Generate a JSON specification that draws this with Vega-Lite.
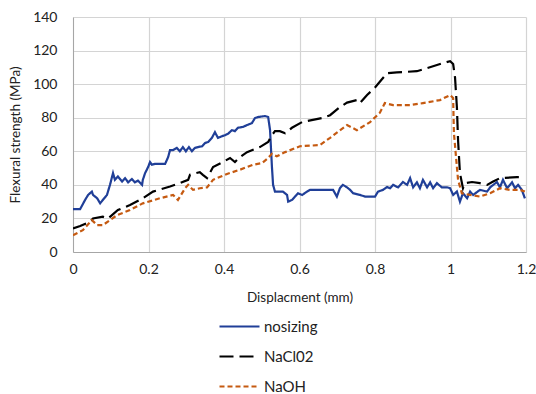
{
  "$schema": "https://vega.github.io/schema/vega-lite/v6.json",
  "width": 453,
  "height": 235,
  "autosize": "none",
  "padding": {"left": 73, "top": 17, "right": 10, "bottom": 142},
  "background": "white",
  "config": {
    "font": "Lato",
    "view": {"stroke": null},
    "axis": {"gridColor": "#d4d4d4", "gridWidth": 1.2, "domainColor": "#a6a6a6", "ticks": false, "labelColor": "#222222", "titleColor": "#222222", "labelFontSize": 14, "titleFontSize": 13.5, "titleFontWeight": "normal", "labelFont": "Lato", "titleFont": "Lato"}
  },
  "data": {"values": [
    {"s":"nosizing","x":0.000,"y":25.6},{"s":"nosizing","x":0.019,"y":25.6},{"s":"nosizing","x":0.032,"y":31},{"s":"nosizing","x":0.040,"y":34},{"s":"nosizing","x":0.050,"y":36},{"s":"nosizing","x":0.053,"y":34},{"s":"nosizing","x":0.064,"y":32},{"s":"nosizing","x":0.072,"y":29},{"s":"nosizing","x":0.079,"y":31},{"s":"nosizing","x":0.090,"y":34},{"s":"nosizing","x":0.098,"y":40},{"s":"nosizing","x":0.106,"y":47},{"s":"nosizing","x":0.111,"y":43},{"s":"nosizing","x":0.119,"y":45},{"s":"nosizing","x":0.130,"y":42},{"s":"nosizing","x":0.138,"y":44},{"s":"nosizing","x":0.146,"y":41.5},{"s":"nosizing","x":0.156,"y":43.5},{"s":"nosizing","x":0.164,"y":41.5},{"s":"nosizing","x":0.172,"y":42.5},{"s":"nosizing","x":0.183,"y":40},{"s":"nosizing","x":0.185,"y":43},{"s":"nosizing","x":0.191,"y":47},{"s":"nosizing","x":0.199,"y":50.6},{"s":"nosizing","x":0.204,"y":53.6},{"s":"nosizing","x":0.209,"y":52},{"s":"nosizing","x":0.217,"y":52.5},{"s":"nosizing","x":0.244,"y":52.5},{"s":"nosizing","x":0.252,"y":56.5},{"s":"nosizing","x":0.257,"y":60.7},{"s":"nosizing","x":0.265,"y":60.7},{"s":"nosizing","x":0.275,"y":62},{"s":"nosizing","x":0.283,"y":60},{"s":"nosizing","x":0.291,"y":62.5},{"s":"nosizing","x":0.299,"y":60},{"s":"nosizing","x":0.307,"y":62.5},{"s":"nosizing","x":0.315,"y":60},{"s":"nosizing","x":0.323,"y":62},{"s":"nosizing","x":0.331,"y":62.5},{"s":"nosizing","x":0.342,"y":63},{"s":"nosizing","x":0.350,"y":65},{"s":"nosizing","x":0.358,"y":65.5},{"s":"nosizing","x":0.368,"y":68},{"s":"nosizing","x":0.376,"y":71.4},{"s":"nosizing","x":0.384,"y":68},{"s":"nosizing","x":0.395,"y":69},{"s":"nosizing","x":0.403,"y":69.6},{"s":"nosizing","x":0.411,"y":70.5},{"s":"nosizing","x":0.421,"y":72.6},{"s":"nosizing","x":0.429,"y":72},{"s":"nosizing","x":0.437,"y":74},{"s":"nosizing","x":0.450,"y":74.5},{"s":"nosizing","x":0.461,"y":75.6},{"s":"nosizing","x":0.474,"y":76.8},{"s":"nosizing","x":0.482,"y":79.8},{"s":"nosizing","x":0.490,"y":80.4},{"s":"nosizing","x":0.509,"y":81},{"s":"nosizing","x":0.517,"y":80.4},{"s":"nosizing","x":0.522,"y":72.6},{"s":"nosizing","x":0.527,"y":50.6},{"s":"nosizing","x":0.530,"y":40},{"s":"nosizing","x":0.535,"y":36},{"s":"nosizing","x":0.556,"y":36},{"s":"nosizing","x":0.567,"y":34},{"s":"nosizing","x":0.570,"y":30},{"s":"nosizing","x":0.580,"y":31},{"s":"nosizing","x":0.588,"y":33},{"s":"nosizing","x":0.596,"y":35},{"s":"nosizing","x":0.607,"y":34},{"s":"nosizing","x":0.620,"y":36},{"s":"nosizing","x":0.628,"y":37},{"s":"nosizing","x":0.689,"y":37},{"s":"nosizing","x":0.699,"y":33},{"s":"nosizing","x":0.707,"y":38},{"s":"nosizing","x":0.715,"y":40},{"s":"nosizing","x":0.726,"y":38.5},{"s":"nosizing","x":0.734,"y":37},{"s":"nosizing","x":0.742,"y":35},{"s":"nosizing","x":0.760,"y":34},{"s":"nosizing","x":0.774,"y":33},{"s":"nosizing","x":0.800,"y":33},{"s":"nosizing","x":0.808,"y":36},{"s":"nosizing","x":0.821,"y":37},{"s":"nosizing","x":0.832,"y":38.7},{"s":"nosizing","x":0.840,"y":38},{"s":"nosizing","x":0.848,"y":40},{"s":"nosizing","x":0.861,"y":38.5},{"s":"nosizing","x":0.874,"y":41.7},{"s":"nosizing","x":0.885,"y":40},{"s":"nosizing","x":0.893,"y":44},{"s":"nosizing","x":0.901,"y":38.5},{"s":"nosizing","x":0.911,"y":41.5},{"s":"nosizing","x":0.919,"y":38},{"s":"nosizing","x":0.927,"y":43},{"s":"nosizing","x":0.938,"y":38.5},{"s":"nosizing","x":0.946,"y":41.5},{"s":"nosizing","x":0.954,"y":38},{"s":"nosizing","x":0.964,"y":41},{"s":"nosizing","x":0.977,"y":38.5},{"s":"nosizing","x":0.991,"y":38.5},{"s":"nosizing","x":0.999,"y":38},{"s":"nosizing","x":1.007,"y":34},{"s":"nosizing","x":1.017,"y":36},{"s":"nosizing","x":1.025,"y":30},{"s":"nosizing","x":1.033,"y":35},{"s":"nosizing","x":1.044,"y":32},{"s":"nosizing","x":1.052,"y":36},{"s":"nosizing","x":1.060,"y":34},{"s":"nosizing","x":1.078,"y":37},{"s":"nosizing","x":1.097,"y":36},{"s":"nosizing","x":1.105,"y":38.5},{"s":"nosizing","x":1.123,"y":41.7},{"s":"nosizing","x":1.131,"y":38.5},{"s":"nosizing","x":1.139,"y":43},{"s":"nosizing","x":1.150,"y":38},{"s":"nosizing","x":1.163,"y":41.5},{"s":"nosizing","x":1.171,"y":38},{"s":"nosizing","x":1.179,"y":40},{"s":"nosizing","x":1.189,"y":37},{"s":"nosizing","x":1.197,"y":32},
    {"s":"NaCl02","x":0.000,"y":14},{"s":"NaCl02","x":0.019,"y":15.5},{"s":"NaCl02","x":0.045,"y":18},{"s":"NaCl02","x":0.053,"y":20},{"s":"NaCl02","x":0.079,"y":21},{"s":"NaCl02","x":0.093,"y":20},{"s":"NaCl02","x":0.119,"y":25},{"s":"NaCl02","x":0.151,"y":28},{"s":"NaCl02","x":0.185,"y":32},{"s":"NaCl02","x":0.212,"y":36},{"s":"NaCl02","x":0.257,"y":39},{"s":"NaCl02","x":0.283,"y":41},{"s":"NaCl02","x":0.305,"y":43},{"s":"NaCl02","x":0.310,"y":46},{"s":"NaCl02","x":0.336,"y":47.6},{"s":"NaCl02","x":0.344,"y":46},{"s":"NaCl02","x":0.355,"y":44},{"s":"NaCl02","x":0.371,"y":50.6},{"s":"NaCl02","x":0.397,"y":53.6},{"s":"NaCl02","x":0.416,"y":56},{"s":"NaCl02","x":0.429,"y":53.6},{"s":"NaCl02","x":0.442,"y":56.5},{"s":"NaCl02","x":0.461,"y":59.5},{"s":"NaCl02","x":0.495,"y":62.5},{"s":"NaCl02","x":0.517,"y":65.5},{"s":"NaCl02","x":0.527,"y":69.6},{"s":"NaCl02","x":0.535,"y":72},{"s":"NaCl02","x":0.548,"y":72},{"s":"NaCl02","x":0.562,"y":70.8},{"s":"NaCl02","x":0.580,"y":74},{"s":"NaCl02","x":0.607,"y":77.4},{"s":"NaCl02","x":0.660,"y":79.8},{"s":"NaCl02","x":0.681,"y":81.5},{"s":"NaCl02","x":0.707,"y":86.3},{"s":"NaCl02","x":0.726,"y":89},{"s":"NaCl02","x":0.752,"y":90.5},{"s":"NaCl02","x":0.760,"y":88.7},{"s":"NaCl02","x":0.779,"y":93.5},{"s":"NaCl02","x":0.800,"y":98},{"s":"NaCl02","x":0.832,"y":106.5},{"s":"NaCl02","x":0.858,"y":107},{"s":"NaCl02","x":0.911,"y":107.7},{"s":"NaCl02","x":0.938,"y":109.5},{"s":"NaCl02","x":0.980,"y":112.5},{"s":"NaCl02","x":0.999,"y":113.7},{"s":"NaCl02","x":1.007,"y":112},{"s":"NaCl02","x":1.012,"y":104},{"s":"NaCl02","x":1.017,"y":86},{"s":"NaCl02","x":1.020,"y":66.7},{"s":"NaCl02","x":1.025,"y":47},{"s":"NaCl02","x":1.033,"y":38},{"s":"NaCl02","x":1.038,"y":41},{"s":"NaCl02","x":1.057,"y":41.7},{"s":"NaCl02","x":1.078,"y":41},{"s":"NaCl02","x":1.097,"y":40},{"s":"NaCl02","x":1.113,"y":42},{"s":"NaCl02","x":1.131,"y":44},{"s":"NaCl02","x":1.176,"y":44.6},{"s":"NaCl02","x":1.184,"y":44.6},
    {"s":"NaOH","x":0.000,"y":10},{"s":"NaOH","x":0.026,"y":13},{"s":"NaOH","x":0.050,"y":19},{"s":"NaOH","x":0.064,"y":16},{"s":"NaOH","x":0.079,"y":16},{"s":"NaOH","x":0.098,"y":19},{"s":"NaOH","x":0.117,"y":22},{"s":"NaOH","x":0.151,"y":25},{"s":"NaOH","x":0.185,"y":29},{"s":"NaOH","x":0.230,"y":32},{"s":"NaOH","x":0.265,"y":34},{"s":"NaOH","x":0.278,"y":31},{"s":"NaOH","x":0.297,"y":38},{"s":"NaOH","x":0.305,"y":40},{"s":"NaOH","x":0.318,"y":37},{"s":"NaOH","x":0.336,"y":38},{"s":"NaOH","x":0.355,"y":38.5},{"s":"NaOH","x":0.371,"y":43},{"s":"NaOH","x":0.408,"y":46.5},{"s":"NaOH","x":0.442,"y":49},{"s":"NaOH","x":0.477,"y":52},{"s":"NaOH","x":0.501,"y":53},{"s":"NaOH","x":0.517,"y":56},{"s":"NaOH","x":0.527,"y":58.5},{"s":"NaOH","x":0.540,"y":57},{"s":"NaOH","x":0.562,"y":59.5},{"s":"NaOH","x":0.601,"y":63},{"s":"NaOH","x":0.654,"y":63.7},{"s":"NaOH","x":0.681,"y":68},{"s":"NaOH","x":0.726,"y":75.6},{"s":"NaOH","x":0.752,"y":72.6},{"s":"NaOH","x":0.787,"y":77.4},{"s":"NaOH","x":0.813,"y":83},{"s":"NaOH","x":0.826,"y":88.7},{"s":"NaOH","x":0.848,"y":87.5},{"s":"NaOH","x":0.893,"y":87.5},{"s":"NaOH","x":0.927,"y":88.7},{"s":"NaOH","x":0.972,"y":90.5},{"s":"NaOH","x":0.999,"y":93.5},{"s":"NaOH","x":1.007,"y":91.7},{"s":"NaOH","x":1.009,"y":71},{"s":"NaOH","x":1.017,"y":50.6},{"s":"NaOH","x":1.020,"y":43},{"s":"NaOH","x":1.030,"y":35},{"s":"NaOH","x":1.052,"y":34},{"s":"NaOH","x":1.078,"y":33},{"s":"NaOH","x":1.105,"y":35},{"s":"NaOH","x":1.131,"y":38},{"s":"NaOH","x":1.158,"y":37},{"s":"NaOH","x":1.176,"y":37},{"s":"NaOH","x":1.184,"y":37},{"s":"NaOH","x":1.197,"y":36}
  ]},
  "mark": {"type": "line", "strokeWidth": 2.2, "clip": true},
  "encoding": {
    "x": {"field": "x", "type": "quantitative", "scale": {"domain": [0, 1.2], "nice": false}, "axis": {"values": [0, 0.2, 0.4, 0.6, 0.8, 1, 1.2], "format": "~g", "title": "Displacment (mm)", "labelPadding": 10, "titlePadding": 14, "labelFlush": false}},
    "y": {"field": "y", "type": "quantitative", "scale": {"domain": [0, 140], "nice": false}, "axis": {"values": [0, 20, 40, 60, 80, 100, 120, 140], "title": "Flexural strength (MPa)", "labelPadding": 16, "titlePadding": 10}},
    "order": {"field": "x", "type": "quantitative"},
    "color": {"field": "s", "type": "nominal", "scale": {"domain": ["nosizing", "NaCl02", "NaOH"], "range": ["#203f98", "#000000", "#c55a11"]}, "legend": {"title": null, "orient": "none", "legendX": 145, "legendY": 288, "symbolType": "stroke", "symbolSize": 1600, "symbolStrokeWidth": 2.2, "labelFontSize": 15, "labelColor": "#222222", "labelFont": "Lato", "rowPadding": -8, "labelOffset": 3}},
    "strokeDash": {"field": "s", "type": "nominal", "scale": {"domain": ["nosizing", "NaCl02", "NaOH"], "range": [[1, 0], [14, 6], [5, 3]]}, "legend": null}
  }
}
